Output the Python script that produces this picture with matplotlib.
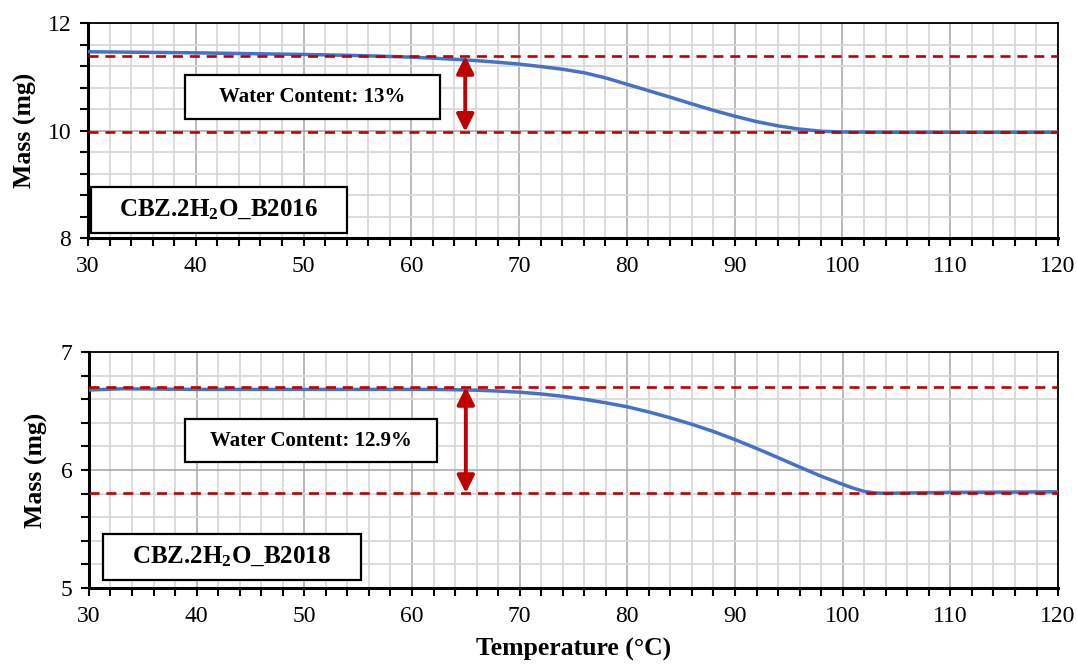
import matplotlib
matplotlib.use('Agg')
import matplotlib.pyplot as plt
from matplotlib.patches import Rectangle
from matplotlib.ticker import MultipleLocator

plt.rcParams['font.family'] = ['Liberation Serif', 'DejaVu Serif']
plt.rcParams['mathtext.default'] = 'regular'

# sample B2016 (top panel)
temp_a = [30, 40, 50, 55, 60, 62, 64, 66, 68, 70, 72, 74, 76, 78, 80, 82, 84, 86, 88,
          90, 92, 94, 96, 98, 100, 105, 110, 115, 120]
mass_a = [11.47, 11.45, 11.42, 11.40, 11.37, 11.35, 11.33, 11.305, 11.275, 11.24, 11.195,
          11.145, 11.08, 10.985, 10.865, 10.745, 10.625, 10.50, 10.38, 10.27, 10.17, 10.09,
          10.03, 9.99, 9.975, 9.97, 9.97, 9.97, 9.97]
levels_a = [11.39, 9.98]
label_a = 'CBZ.2H$_2$O_B2016'
water_a = 'Water Content: 13%'

# sample B2018 (bottom panel)
temp_b = [30, 33, 40, 50, 60, 62, 64, 66, 68, 70, 72, 74, 76, 78, 80, 82, 84, 86, 88,
          90, 92, 94, 96, 98, 100, 101, 102, 103, 104, 106, 110, 115, 120]
mass_b = [6.68, 6.69, 6.685, 6.685, 6.685, 6.685, 6.682, 6.678, 6.671, 6.661, 6.646, 6.626,
          6.601, 6.571, 6.537, 6.493, 6.443, 6.388, 6.327, 6.258, 6.183, 6.105, 6.025,
          5.947, 5.878, 5.845, 5.818, 5.805, 5.802, 5.805, 5.81, 5.812, 5.815]
levels_b = [6.705, 5.805]
label_b = 'CBZ.2H$_2$O_B2018'
water_b = 'Water Content: 12.9%'

arrow_x = 65

BLUE = '#4472C4'
RED = '#C00000'

fig = plt.figure(figsize=(10.77, 6.66), dpi=100)
ax1 = fig.add_axes([0.0817, 0.6426, 0.9007, 0.3224])
ax2 = fig.add_axes([0.0826, 0.1176, 0.8998, 0.3534])


def setup(ax, ylim, ymajor, yminor):
    ax.set_xlim(30, 120)
    ax.set_ylim(*ylim)
    ax.xaxis.set_major_locator(MultipleLocator(10))
    ax.xaxis.set_minor_locator(MultipleLocator(2))
    ax.yaxis.set_major_locator(MultipleLocator(ymajor))
    ax.yaxis.set_minor_locator(MultipleLocator(yminor))
    ax.grid(which='minor', color='#d9d9d9', lw=1.3, zorder=0)
    ax.grid(which='major', color='#a6a6a6', lw=1.1, zorder=0)
    ax.set_axisbelow(True)
    ax.tick_params(which='both', direction='out', length=6, width=1.5, labelsize=17)
    ax.tick_params(axis='x', pad=7)
    ax.tick_params(axis='y', pad=6)
    for side in ['left', 'bottom']:
        ax.spines[side].set_linewidth(2.2)
    for side in ['top', 'right']:
        ax.spines[side].set_linewidth(1.3)
    ax.set_ylabel('Mass (mg)', fontsize=18.5, fontweight='bold')


def draw(ax, t, m, levels, label, water, wbox, lbox):
    ax.plot(t, m, color=BLUE, lw=2.5, zorder=3)
    for lv in levels:
        ax.axhline(lv, color=RED, lw=1.9, ls=(0, (3.8, 2.6)), zorder=4)
    ax.annotate('', xy=(arrow_x, levels[1]), xytext=(arrow_x, levels[0]),
                arrowprops=dict(arrowstyle='<|-|>', color=RED, lw=2.8,
                                mutation_scale=26, shrinkA=0, shrinkB=0), zorder=5)
    for box, txt, fs in [(wbox, water, 15), (lbox, label, 18)]:
        ax.add_patch(Rectangle(box[:2], box[2], box[3], transform=ax.transAxes,
                               facecolor='white', edgecolor='black', lw=1.6, zorder=6))
        ax.text(box[0] + box[2] / 2, box[1] + box[3] / 2, txt, transform=ax.transAxes,
                ha='center', va='center', fontsize=fs, fontweight='bold', zorder=7)


setup(ax1, (8, 12), 2, 0.4)
setup(ax2, (5, 7), 1, 0.2)
draw(ax1, temp_a, mass_a, levels_a, label_a, water_a,
     (0.100, 0.556, 0.263, 0.205), (0.003, 0.023, 0.264, 0.215))
draw(ax2, temp_b, mass_b, levels_b, label_b, water_b,
     (0.099, 0.533, 0.260, 0.182), (0.014, 0.031, 0.267, 0.199))

ax1.yaxis.set_label_coords(-0.053, 0.5)
ax2.yaxis.set_label_coords(-0.042, 0.5)
ax2.set_xlabel('Temperature (°C)', fontsize=18.5, fontweight='bold', labelpad=8)

fig.savefig('out.png', dpi=100)
